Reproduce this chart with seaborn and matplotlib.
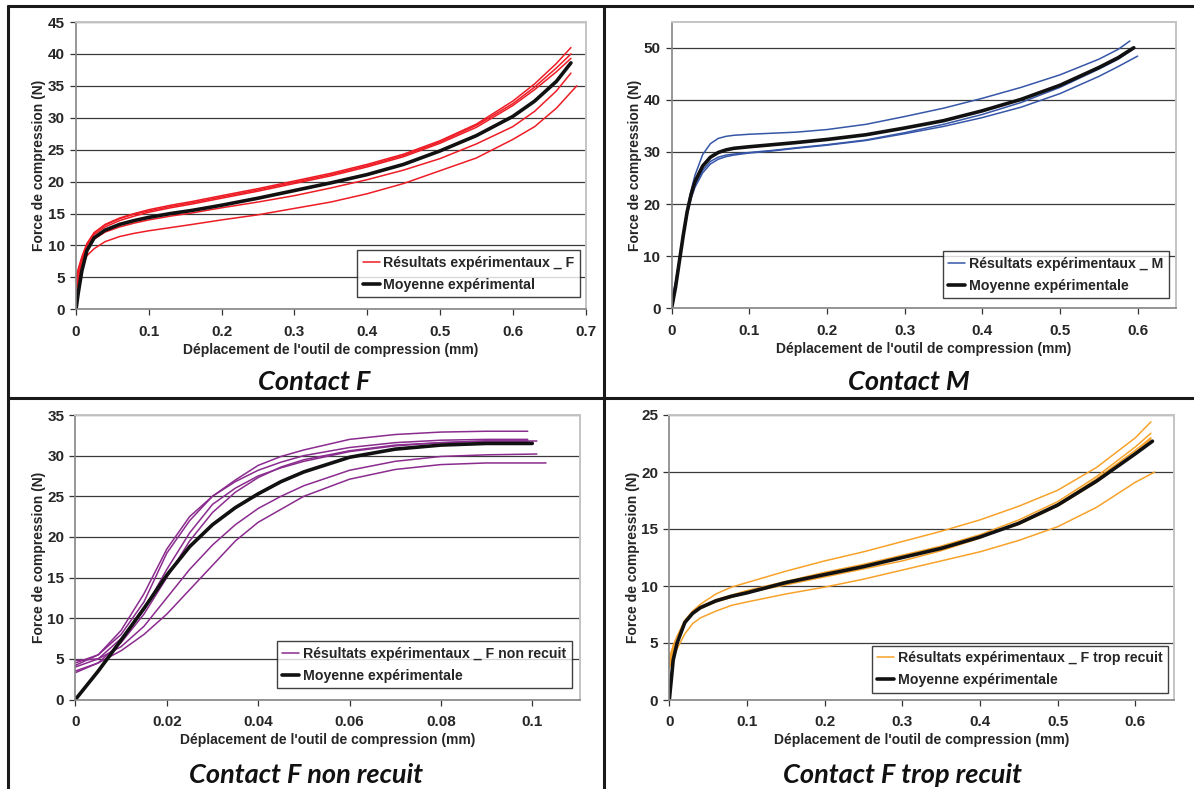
import pandas as pd
import seaborn as sns
import matplotlib.pyplot as plt
from matplotlib.lines import Line2D
from matplotlib.ticker import FuncFormatter

# ---- Contact F ----
F_x = [0, 0.003, 0.008, 0.015, 0.025, 0.04, 0.06, 0.08, 0.1, 0.13, 0.16, 0.2,
       0.25, 0.3, 0.35, 0.4, 0.45, 0.5, 0.55, 0.6, 0.63, 0.66, 0.68]
F_x_low = [0, 0.003, 0.008, 0.015, 0.025, 0.04, 0.06, 0.08, 0.1, 0.13, 0.16, 0.2,
           0.25, 0.3, 0.35, 0.4, 0.45, 0.5, 0.55, 0.6, 0.63, 0.66, 0.688]
F_exp_1 = [4.5, 6, 8, 10.2, 12, 13.3, 14.3, 15, 15.6, 16.3, 16.9, 17.8, 18.9, 20.1,
           21.3, 22.7, 24.3, 26.4, 29.0, 32.6, 35.3, 38.5, 41.0]
F_exp_2 = [5, 6.3, 8.2, 10.3, 12.0, 13.2, 14.2, 14.9, 15.4, 16.1, 16.7, 17.6, 18.7,
           19.9, 21.1, 22.5, 24.1, 26.2, 28.8, 32.2, 34.8, 37.8, 40.0]
F_exp_3 = [4, 5.8, 7.8, 10, 11.7, 12.9, 13.9, 14.6, 15.2, 15.9, 16.5, 17.4, 18.5,
           19.7, 20.9, 22.3, 23.9, 26.0, 28.5, 31.9, 34.4, 37.2, 39.3]
F_exp_4 = [3, 5, 7.5, 9.5, 11.0, 12.1, 12.9, 13.5, 14.0, 14.6, 15.1, 15.9, 16.8,
           17.8, 19.0, 20.3, 21.8, 23.6, 25.9, 28.6, 31.0, 34.2, 37.0]
F_exp_5 = [2.5, 4.5, 6.8, 8.4, 9.5, 10.6, 11.4, 11.9, 12.3, 12.8, 13.3, 14.0, 14.8,
           15.8, 16.8, 18.1, 19.7, 21.7, 23.7, 26.6, 28.6, 31.5, 35.0]
F_mean = [0, 2.5, 6, 9.2, 11.2, 12.4, 13.3, 13.9, 14.4, 15.0, 15.5, 16.3, 17.4,
          18.6, 19.8, 21.1, 22.7, 24.8, 27.2, 30.2, 32.6, 35.7, 38.6]

# ---- Contact M ----
M_x = [0, 0.005, 0.01, 0.015, 0.02, 0.025, 0.03, 0.04, 0.05, 0.06, 0.07, 0.08, 0.1,
       0.13, 0.16, 0.2, 0.25, 0.3, 0.35, 0.4, 0.45, 0.5, 0.55, 0.575, 0.595]
M_x_top = M_x[:-1] + [0.59]
M_x_low2 = M_x[:-1] + [0.6]
M_exp_1 = [1.5, 5, 9.5, 14.5, 19, 22.5, 25.5, 29.5, 31.6, 32.6, 33.0, 33.2, 33.4,
           33.6, 33.8, 34.3, 35.3, 36.8, 38.4, 40.3, 42.4, 44.8, 47.8, 49.7, 51.3]
M_exp_2 = [1, 4.5, 9, 14, 18.3, 21.4, 23.7, 26.5, 28.2, 29.0, 29.4, 29.6, 29.9,
           30.3, 30.8, 31.4, 32.3, 33.7, 35.3, 37.2, 39.5, 42.4, 45.9, 47.8, 49.8]
M_exp_3 = [0.5, 4, 8.8, 13.8, 18, 21, 23.2, 26, 27.7, 28.6, 29.1, 29.4, 29.8,
           30.2, 30.7, 31.3, 32.2, 33.5, 34.9, 36.6, 38.6, 41.2, 44.5, 46.4, 48.4]
M_mean = [0, 4, 9, 14, 18.5, 21.8, 24.3, 27.3, 29.0, 29.9, 30.4, 30.7, 31.0, 31.4,
          31.8, 32.4, 33.3, 34.6, 36.0, 37.9, 40.1, 42.8, 46.2, 48.1, 50.0]

# ---- Contact F non recuit ----
NR_x = [0, 0.005, 0.01, 0.015, 0.02, 0.025, 0.03, 0.035, 0.04, 0.045, 0.05, 0.06,
        0.07, 0.08, 0.09, 0.099]
NR_exp_1 = [4.5, 5.5, 8, 12, 18, 22, 25, 27, 28.8, 29.9, 30.7, 32, 32.6, 32.9, 33, 33]
NR_exp_2 = [4.2, 5.5, 8.5, 13, 18.5, 22.5, 25, 26.8, 28.2, 29.2, 30, 31, 31.6, 31.9, 32, 32]
NR_exp_3 = [3.5, 4.5, 7, 10.5, 15, 19.5, 23, 25.5, 27.3, 28.6, 29.5, 30.6, 31.3, 31.6, 31.8, 31.8]
NR_exp_4 = [4.8, 5, 6.5, 9, 12.5, 16, 19, 21.5, 23.5, 25, 26.3, 28.2, 29.3, 29.9, 30.1, 30.2]
NR_exp_5 = [3.3, 4.5, 6, 8, 10.5, 13.5, 16.5, 19.5, 21.8, 23.4, 25.0, 27.1, 28.3, 28.9, 29.1, 29.1]
NR_exp_6 = [4, 5, 7.5, 11, 16, 20.5, 24, 26, 27.5, 28.5, 29.3, 30.5, 31.2, 31.6, 31.8, 31.8]
NR_x_5 = NR_x[:-1] + [0.103]
NR_x_3 = NR_x[:-1] + [0.101]
NR_mean = [0, 3.5, 7.3, 11.2, 15.3, 18.8, 21.5, 23.6, 25.3, 26.8, 28, 29.8, 30.8,
           31.3, 31.5, 31.5]
NR_x_mean = NR_x[:-1] + [0.1]

# ---- Contact F trop recuit ----
TR_x = [0, 0.005, 0.01, 0.02, 0.03, 0.04, 0.06, 0.08, 0.1, 0.15, 0.2, 0.25, 0.3,
        0.35, 0.4, 0.45, 0.5, 0.55, 0.6, 0.62]
TR_x_low = TR_x[:-1] + [0.625]
TR_x_mean = TR_x[:-1] + [0.622]
TR_exp_1 = [3.5, 4.8, 5.6, 7.0, 7.8, 8.4, 9.3, 9.9, 10.3, 11.3, 12.2, 13.0, 13.9,
            14.8, 15.8, 17.0, 18.4, 20.4, 23.0, 24.4]
TR_exp_2 = [3.8, 4.6, 5.2, 6.9, 7.7, 8.2, 8.8, 9.2, 9.6, 10.4, 11.2, 11.9, 12.7,
            13.5, 14.5, 15.8, 17.4, 19.6, 22.2, 23.4]
TR_exp_3 = [3.0, 4.2, 5.0, 6.7, 7.5, 8.0, 8.6, 9.0, 9.4, 10.1, 10.8, 11.5, 12.2,
            13.1, 14.2, 15.6, 17.2, 19.4, 21.9, 23.0]
TR_exp_4 = [3.2, 4.4, 5.1, 6.8, 7.6, 8.1, 8.7, 9.1, 9.5, 10.3, 11.0, 11.7, 12.5,
            13.3, 14.3, 15.4, 17.0, 19.1, 21.7, 22.9]
TR_exp_5 = [2.8, 3.8, 4.5, 5.8, 6.7, 7.2, 7.8, 8.3, 8.6, 9.3, 9.9, 10.6, 11.4,
            12.2, 13.0, 14.0, 15.2, 16.9, 19.1, 20.0]
TR_mean = [0, 3.5, 5.0, 6.8, 7.6, 8.1, 8.7, 9.1, 9.4, 10.3, 11.0, 11.7, 12.5,
           13.3, 14.3, 15.5, 17.1, 19.2, 21.6, 22.7]

F_xticks = [0, 0.1, 0.2, 0.3, 0.4, 0.5, 0.6, 0.7]
M_xticks = [0, 0.1, 0.2, 0.3, 0.4, 0.5, 0.6]
NR_xticks = [0, 0.02, 0.04, 0.06, 0.08, 0.1]
TR_xticks = [0, 0.1, 0.2, 0.3, 0.4, 0.5, 0.6]

W, H = 1194, 789
sns.set_theme(style="white")
plt.rcParams['font.family'] = ['Liberation Sans', 'DejaVu Sans']
plt.rcParams['font.weight'] = 'bold'
plt.rcParams['axes.labelweight'] = 'bold'

fig = plt.figure(figsize=(W / 100, H / 100), dpi=100)


def px_axes(left, top, right, bottom):
    return fig.add_axes([left / W, 1 - bottom / H, (right - left) / W, (bottom - top) / H])


def draw_panel(ax, curves, mean_x, mean_y, color, xlim, xticks, ylim, ystep,
               label_exp, label_mean, anchor):
    frames = []
    for i, (xs, ys) in enumerate(curves):
        frames.append(pd.DataFrame({'x': xs, 'y': ys, 'run': i}))
    df = pd.concat(frames)
    sns.lineplot(data=df, x='x', y='y', units='run', estimator=None, sort=False,
                 color=color, lw=1.1, ax=ax, legend=False)
    sns.lineplot(x=mean_x, y=mean_y, estimator=None, sort=False, color='#111111',
                 lw=2.6, ax=ax, legend=False)

    ax.set_xlim(*xlim)
    ax.set_ylim(*ylim)
    ax.set_xticks(xticks)
    ax.set_yticks(list(range(0, ylim[1] + 1, ystep)))
    ax.xaxis.set_major_formatter(FuncFormatter(lambda v, p: '%g' % round(v, 4)))
    ax.yaxis.grid(True, color='#3a3a3a', lw=0.9)
    ax.xaxis.grid(False)
    ax.set_axisbelow(True)
    ax.tick_params(bottom=True, left=True, direction='out', length=4, width=0.9,
                   color='#333333', labelsize=11)
    ax.tick_params(axis='x', pad=7)
    ax.tick_params(axis='y', pad=4)
    for side in ['left', 'bottom']:
        ax.spines[side].set_color('#858585')
        ax.spines[side].set_linewidth(1.2)
    for side in ['top', 'right']:
        ax.spines[side].set_color('#c4c4c4')
        ax.spines[side].set_linewidth(1.4)
    ax.set_xlabel("Déplacement de l'outil de compression (mm)", fontsize=10, labelpad=3)
    ax.set_ylabel("Force de compression (N)", fontsize=10, labelpad=1)

    handles = [Line2D([], [], color=color, lw=1.1), Line2D([], [], color='#111111', lw=2.6)]
    leg = ax.legend(handles, [label_exp, label_mean], loc='lower right',
                    bbox_to_anchor=anchor, frameon=True, fancybox=False,
                    fontsize=10.2, handlelength=1.2, handletextpad=0.25,
                    labelspacing=0.55, borderpad=0.4, borderaxespad=0)
    leg.get_frame().set_edgecolor('#111111')
    leg.get_frame().set_linewidth(1.0)


ax1 = px_axes(76, 22, 585.5, 309.3)
draw_panel(ax1,
           [(F_x, F_exp_1), (F_x, F_exp_2), (F_x, F_exp_3), (F_x, F_exp_4), (F_x_low, F_exp_5)],
           F_x, F_mean, '#ee1c25', (0, 0.7), F_xticks, (0, 45), 5,
           'Résultats expérimentaux _ F', 'Moyenne expérimental', (0.99, 0.042))

ax2 = px_axes(671.6, 21.7, 1176.5, 308.3)
draw_panel(ax2,
           [(M_x_top, M_exp_1), (M_x, M_exp_2), (M_x_low2, M_exp_3)],
           M_x, M_mean, '#3656a8', (0, 0.65), M_xticks, (0, 55), 10,
           'Résultats expérimentaux _ M', 'Moyenne expérimentale', (0.985, 0.035))

ax3 = px_axes(75.4, 415, 579.8, 699.5)
draw_panel(ax3,
           [(NR_x, NR_exp_1), (NR_x, NR_exp_2), (NR_x_3, NR_exp_3), (NR_x_3, NR_exp_4),
            (NR_x_5, NR_exp_5), (NR_x, NR_exp_6)],
           NR_x_mean, NR_mean, '#8a2b8e', (0, 0.1104), NR_xticks, (0, 35), 5,
           'Résultats expérimentaux _ F non recuit', 'Moyenne expérimentale', (0.984, 0.039))

ax4 = px_axes(669.3, 415, 1174.2, 700)
draw_panel(ax4,
           [(TR_x, TR_exp_1), (TR_x, TR_exp_2), (TR_x, TR_exp_3), (TR_x, TR_exp_4),
            (TR_x_low, TR_exp_5)],
           TR_x_mean, TR_mean, '#f7a22a', (0, 0.65), TR_xticks, (0, 25), 5,
           'Résultats expérimentaux _ F trop recuit', 'Moyenne expérimentale', (0.988, 0.025))

# panel captions
titles = [('Contact F', 314, 382), ('Contact M', 909, 382),
          ('Contact F non recuit', 306, 775), ('Contact F trop recuit', 902, 775)]
for text, xp, yp in titles:
    fig.text(xp / W, 1 - yp / H, text, ha='center', va='center', fontsize=19.5,
             family=['Lato', 'DejaVu Sans'], style='italic', weight='bold', color='#111111')

# table frame around the four panels
frame_kw = dict(transform=fig.transFigure, color='#1a1a1a', lw=2.2)
for (x0, y0), (x1, y1) in [((8, 6), (W, 6)), ((8, 6), (8, H)), ((8, 398), (W, 398)),
                           ((604, 6), (604, H))]:
    fig.add_artist(Line2D([x0 / W, x1 / W], [1 - y0 / H, 1 - y1 / H], **frame_kw))

fig.savefig('out.png', dpi=100)
